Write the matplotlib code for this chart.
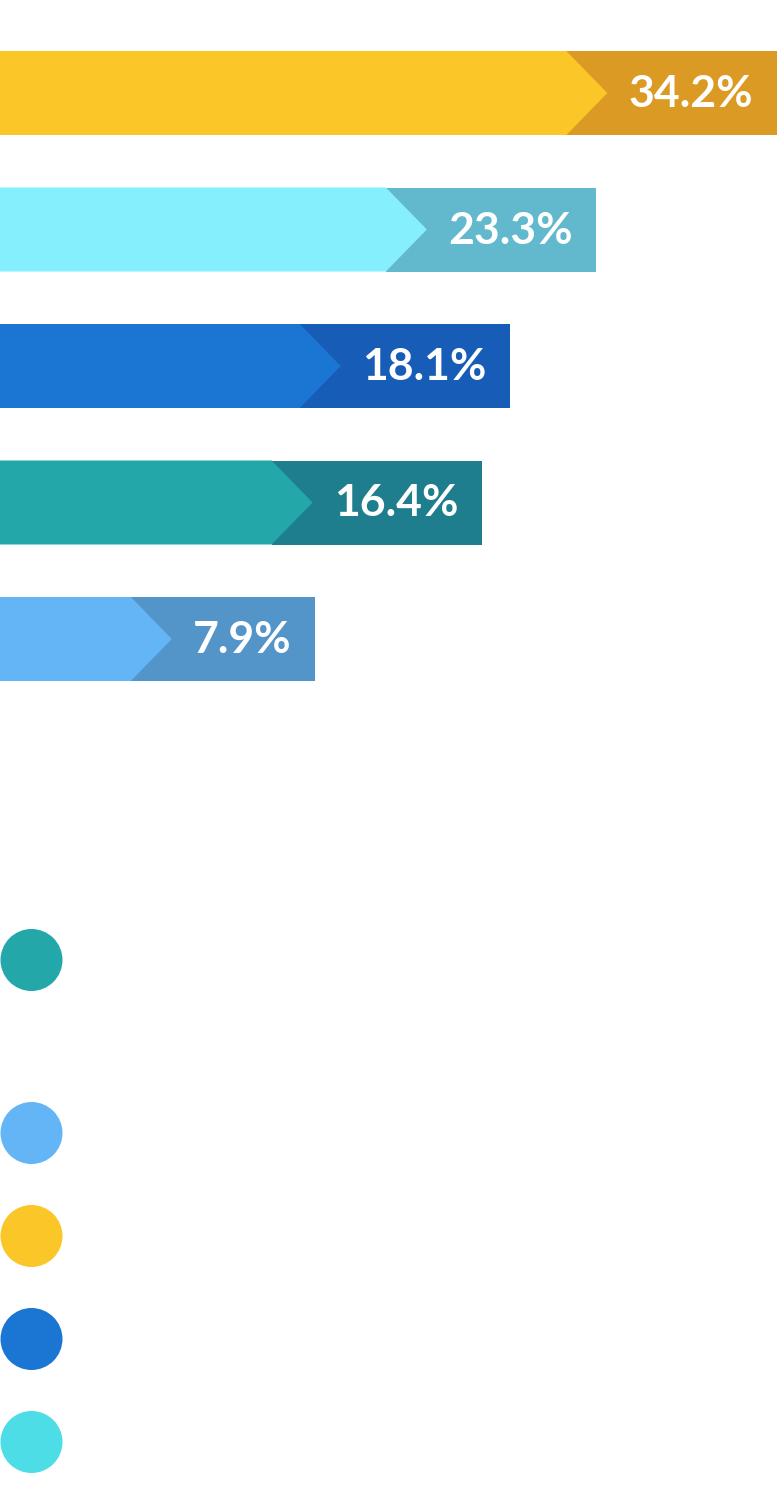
import matplotlib
matplotlib.use("Agg")
import matplotlib.pyplot as plt
from matplotlib.patches import Polygon, Rectangle

# Dados do gráfico
valores = [34.2, 23.3, 18.1, 16.4, 7.9]
rotulos = ["34.2%", "23.3%", "18.1%", "16.4%", "7.9%"]
cores_claras = ["#FBC628", "#86EFFD", "#1B76D3", "#23A7A9", "#64B5F6"]
cores_escuras = ["#DB9A24", "#62B9CD", "#175CB6", "#1F7E8E", "#5394C9"]
cores_legenda = ["#23A7A9", "#64B5F6", "#FBC628", "#1B76D3", "#4DDDE6"]

W, H = 778, 1488
px_por_unidade = 16.56

fig = plt.figure(figsize=(W / 100, H / 100), dpi=100)
ax = fig.add_axes([0, 0, 1, 1])
ax.set_xlim(0, W / px_por_unidade)
ax.set_ylim(H, 0)
ax.axis("off")

renderer = fig.canvas.get_renderer()
inv = ax.transData.inverted()

altura = 84
seta = 41 / px_por_unidade
folga_txt = 21 / px_por_unidade
folga_dir = 24 / px_por_unidade

for i, (v, rot) in enumerate(zip(valores, rotulos)):
    yc = 93 + 136.5 * i
    topo, base = yc - altura / 2, yc + altura / 2
    # texto primeiro, para medir a largura
    t = ax.text(v + seta + folga_txt, yc + 1, rot, ha="left", va="center",
                color="white", fontsize=32, fontweight="bold",
                family=["Lato", "DejaVu Sans"], zorder=4)
    bb = t.get_window_extent(renderer=renderer)
    x_fim = inv.transform((bb.x1, 0))[0] + folga_dir
    ax.add_patch(Rectangle((v, topo), x_fim - v, altura, color=cores_escuras[i],
                           lw=0, zorder=1))
    ax.add_patch(Polygon([(0, topo), (v, topo), (v + seta, yc), (v, base), (0, base)],
                         closed=True, color=cores_claras[i], lw=0, zorder=2))

# legenda (apenas os círculos, textos em branco)
ax2 = fig.add_axes([0, 0, 1, 1])
ax2.set_xlim(0, W)
ax2.set_ylim(H, 0)
ax2.axis("off")
ys_legenda = [960, 1133, 1236, 1339, 1442]
d_pt = 62 * 72 / 100
ax2.scatter([31.5] * len(ys_legenda), ys_legenda, s=d_pt ** 2, c=cores_legenda,
            linewidths=0, zorder=3)

fig.savefig("out.png", dpi=100)
